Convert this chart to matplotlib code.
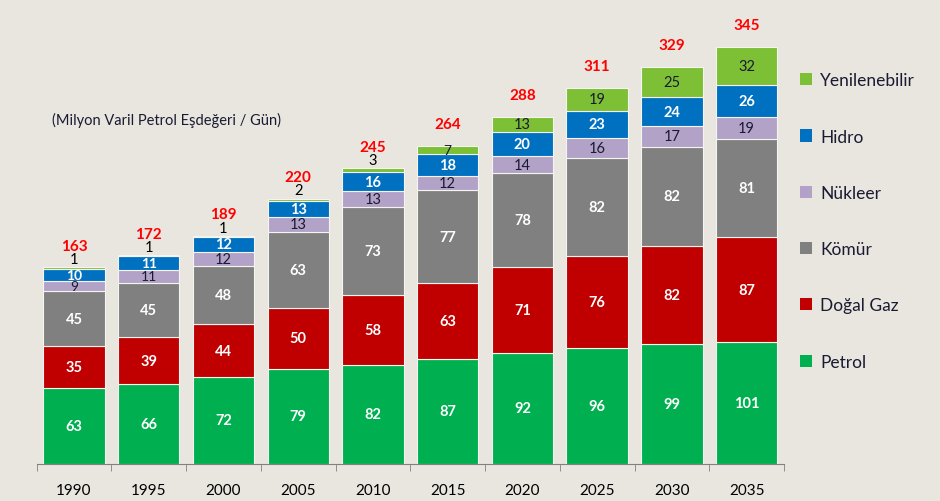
import numpy as np
import matplotlib.pyplot as plt

plt.rcParams['font.family'] = ['Lato', 'DejaVu Sans']

years = ["1990", "1995", "2000", "2005", "2010", "2015", "2020", "2025", "2030", "2035"]
series = ["Petrol", "Doğal Gaz", "Kömür", "Nükleer", "Hidro", "Yenilenebilir"]
petrol = [63, 66, 72, 79, 82, 87, 92, 96, 99, 101]
dogalgaz = [35, 39, 44, 50, 58, 63, 71, 76, 82, 87]
komur = [45, 45, 48, 63, 73, 77, 78, 82, 82, 81]
nukleer = [9, 11, 12, 13, 13, 12, 14, 16, 17, 19]
hidro = [10, 11, 12, 13, 16, 18, 20, 23, 24, 26]
yenilenebilir = [1, 1, 1, 2, 3, 7, 13, 19, 25, 32]
totals = [163, 172, 189, 220, 245, 264, 288, 311, 329, 345]

values = [petrol, dogalgaz, komur, nukleer, hidro, yenilenebilir]
colors = ["#00B050", "#C00000", "#808080", "#B3A2C7", "#0070C0", "#7DC035"]
label_colors = ["white", "white", "white", "#1A1A33", "white", "#1A1A33"]
label_bold = [True, True, True, False, True, False]
bg = "#E8E6DE"

fig = plt.figure(figsize=(9.4, 5.02), dpi=100, facecolor=bg)
ax = fig.add_axes([0.039, 0.074, 0.795, 0.92], facecolor=bg)

x = np.arange(len(years))
bottom = np.zeros(len(years))
for s, vals in enumerate(values):
    vals = np.array(vals)
    ax.bar(x, vals, 0.82, bottom=bottom, color=colors[s], edgecolor="#F4F4F0",
           linewidth=0.8, label=series[s])
    for i, v in enumerate(vals):
        if v < 5:
            ax.text(x[i], bottom[i] + v + 7, str(v), ha="center", va="center",
                    fontsize=10.5, color="black")
        else:
            ax.text(x[i], bottom[i] + v / 2, str(v), ha="center", va="center",
                    fontsize=10 if v < 12 else 10.5, color=label_colors[s],
                    fontweight="bold" if label_bold[s] else "normal")
    bottom += vals

for i, t in enumerate(totals):
    ax.text(x[i], bottom[i] + 18, str(t), ha="center", va="center",
            fontsize=11, color="#FF0000", fontweight="bold")

ax.set_xlim(-0.5, len(years) - 0.5)
ax.set_ylim(0, 383)
ax.set_xticks(x)
ax.set_xticklabels(years, fontsize=11)
ax.set_xticks(np.arange(len(years) + 1) - 0.5, minor=True)
ax.tick_params(axis="x", which="major", length=0, pad=14)
ax.tick_params(axis="x", which="minor", length=5, color="#808080")
ax.set_yticks([])
for sp in ["top", "right", "left"]:
    ax.spines[sp].set_visible(False)
ax.spines["bottom"].set_color("#808080")

ax.text(0.02, 0.745, "(Milyon Varil Petrol Eşdeğeri / Gün)", transform=ax.transAxes,
        fontsize=10.5, color="#1A1A33", va="center")

# legend
handles, labels = ax.get_legend_handles_labels()
leg = fig.legend(handles[::-1], labels[::-1], loc="upper left", bbox_to_anchor=(0.834, 0.885),
                 frameon=False, fontsize=12.5, labelspacing=2.32, handlelength=0.7,
                 handleheight=0.7, handletextpad=0.5, labelcolor="#1A1A33")
for h in leg.legend_handles:
    h.set_edgecolor("none")

fig.savefig("out.png", dpi=100, facecolor=bg)
